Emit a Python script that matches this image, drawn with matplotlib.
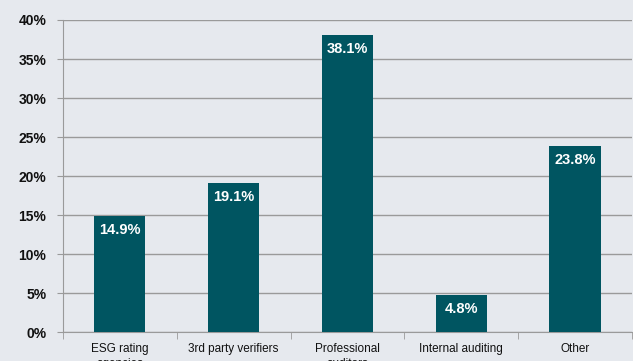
import matplotlib.pyplot as plt
from matplotlib.ticker import FixedLocator, PercentFormatter

categories = ['ESG rating\nagencies', '3rd party verifiers', 'Professional\nauditors',
              'Internal auditing', 'Other']
shares = [14.9, 19.1, 38.1, 4.8, 23.8]

bg = '#e6e9ee'
bar_color = '#005561'
grid_color = '#9a9a9a'

plt.rcParams['font.family'] = ['Liberation Sans', 'DejaVu Sans']

fig = plt.figure(figsize=(6.33, 3.61), dpi=100, facecolor=bg)
ax = fig.add_axes([0.0995, 0.0803, 0.8989, 0.8643], facecolor=bg)

x = range(len(categories))
bars = ax.bar(x, shares, width=0.45, color=bar_color, zorder=3)

for rect, v in zip(bars, shares):
    ax.annotate(f'{v:.1f}%', (rect.get_x() + rect.get_width() / 2, v),
                xytext=(0, -5), textcoords='offset points', ha='center', va='top',
                color='white', fontsize=10.5, fontweight='bold', zorder=4)

ax.set_xlim(-0.5, len(categories) - 0.5)
ax.set_ylim(0, 40)
ax.set_yticks(range(0, 41, 5))
ax.yaxis.set_major_formatter(PercentFormatter(decimals=0))
ax.grid(axis='y', color=grid_color, linewidth=1, zorder=0)

ax.set_xticks(list(x))
ax.set_xticklabels(categories, fontsize=8.5, linespacing=1.3)
ax.xaxis.set_minor_locator(FixedLocator([i - 0.5 for i in range(len(categories) + 1)]))
ax.tick_params(axis='x', which='major', length=0, pad=8, colors='#111111')
ax.tick_params(axis='x', which='minor', length=5, color=grid_color)
ax.tick_params(axis='y', length=4, color=grid_color, labelsize=10, pad=8, labelcolor='#111111')

for side in ['top', 'right']:
    ax.spines[side].set_visible(False)
ax.spines['left'].set_color(grid_color)
ax.spines['bottom'].set_color(grid_color)

for lab in ax.get_yticklabels():
    lab.set_fontweight('bold')

fig.savefig('out.png', dpi=100, facecolor=bg)
